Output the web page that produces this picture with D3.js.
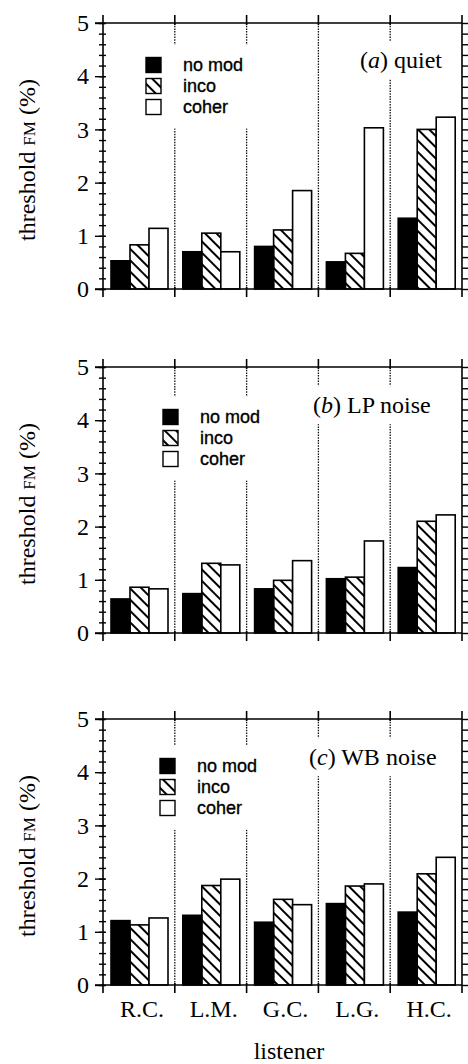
<!DOCTYPE html>
<html>
<head>
<meta charset="utf-8">
<script src="https://cdn.jsdelivr.net/npm/d3@7"></script>
<style>
  body { margin: 0; background: #fff; }
  svg { display: block; }
</style>
</head>
<body>
<script>
// listeners and stimulus conditions
var listeners = ["R.C.", "L.M.", "G.C.", "L.G.", "H.C."];
var conditions = ["no mod", "inco", "coher"];

// (a) quiet
var quietNoMod = [0.53, 0.70, 0.80, 0.51, 1.33];
var quietInco  = [0.83, 1.05, 1.11, 0.67, 3.00];
var quietCoher = [1.14, 0.70, 1.85, 3.03, 3.23];
// (b) LP noise
var lpNoMod = [0.64, 0.74, 0.83, 1.02, 1.23];
var lpInco  = [0.86, 1.31, 0.99, 1.05, 2.10];
var lpCoher = [0.83, 1.28, 1.36, 1.73, 2.22];
// (c) WB noise
var wbNoMod = [1.21, 1.31, 1.18, 1.53, 1.37];
var wbInco  = [1.13, 1.87, 1.61, 1.86, 2.09];
var wbCoher = [1.26, 1.99, 1.51, 1.90, 2.40];

var yTicks = [0, 1, 2, 3, 4, 5];
var panelTags = ["a", "b", "c"];
var panelNames = ["quiet", "LP noise", "WB noise"];

var panels = [
  {series: [quietNoMod, quietInco, quietCoher], top: 23,  leg: [146, 42], lab: [360, 37]},
  {series: [lpNoMod, lpInco, lpCoher],          top: 367, leg: [163, 50], lab: [313, 38]},
  {series: [wbNoMod, wbInco, wbCoher],          top: 719, leg: [160, 47], lab: [309, 38]}
];

var W = 468, H = 1064, ph = 266, left = 103, right = 462;
var serif = "'Liberation Serif', 'Times New Roman', serif";
var sans = "'Liberation Sans', Arial, sans-serif";

var svg = d3.select("body").append("svg")
  .attr("width", W).attr("height", H);

// hatch for "inco"
var defs = svg.append("defs");
defs.append("pattern")
  .attr("id", "hatch")
  .attr("patternUnits", "userSpaceOnUse")
  .attr("width", 8).attr("height", 8)
  .attr("patternTransform", "rotate(45)")
  .append("line")
  .attr("x1", -1).attr("x2", 9).attr("y1", 4).attr("y2", 4)
  .attr("stroke", "#000").attr("stroke-width", 2);

var fills = ["#000", "url(#hatch)", "#fff"];

var x = d3.scaleBand().domain(listeners).range([left, right]);
var xBar = d3.scaleBand().domain(conditions).range([8, 65]);

panels.forEach(function(p, pi) {
  var y = d3.scaleLinear().domain([0, 5]).range([p.top + ph, p.top]);
  var g = svg.append("g");
  var gDiv = g.append("g"), gMask = g.append("g"), gBars = g.append("g"),
      gFrame = g.append("g"), gText = g.append("g");

  // dotted dividers between listeners
  var bounds = listeners.slice(1).map(function(d) { return x(d); });
  gDiv.selectAll("line").data(bounds).enter().append("line")
    .attr("x1", function(d) { return d; }).attr("x2", function(d) { return d; })
    .attr("y1", y(5)).attr("y2", y(0))
    .attr("stroke", "#111").attr("stroke-width", 1.3)
    .attr("stroke-dasharray", "1.5,1.2");

  // bars
  listeners.forEach(function(name, i) {
    gBars.selectAll(null).data(conditions).enter().append("rect")
      .attr("x", function(c) { return x(name) + xBar(c); })
      .attr("width", xBar.bandwidth())
      .attr("y", function(c, ci) { return y(p.series[ci][i]); })
      .attr("height", function(c, ci) { return y(0) - y(p.series[ci][i]); })
      .attr("fill", function(c, ci) { return fills[ci]; })
      .attr("stroke", "#000").attr("stroke-width", 1.6);
  });

  // frame
  gFrame.append("line").attr("x1", left - 8).attr("x2", right)
    .attr("y1", y(5)).attr("y2", y(5));
  gFrame.append("line").attr("x1", left - 8).attr("x2", right)
    .attr("y1", y(0)).attr("y2", y(0));
  gFrame.append("line").attr("x1", left).attr("x2", left)
    .attr("y1", y(5) - 8).attr("y2", y(0) + 8);
  gFrame.append("line").attr("x1", right).attr("x2", right)
    .attr("y1", y(5) - 8).attr("y2", y(0) + 8);
  gFrame.selectAll(null).data(bounds).enter().append("line")
    .attr("x1", function(d) { return d; }).attr("x2", function(d) { return d; })
    .attr("y1", y(5) - 8).attr("y2", y(5) + 2);
  gFrame.selectAll(null).data(bounds).enter().append("line")
    .attr("x1", function(d) { return d; }).attr("x2", function(d) { return d; })
    .attr("y1", y(0) - 2).attr("y2", y(0) + 8);
  gFrame.selectAll("line").attr("stroke", "#000").attr("stroke-width", 1.6);

  // left axis: minor + major
  var minor = gFrame.append("g").attr("transform", "translate(" + (left + 3) + ",0)")
    .call(d3.axisLeft(y).ticks(25).tickSize(7).tickFormat(""));
  var major = gFrame.append("g").attr("transform", "translate(" + (left + 2) + ",0)")
    .call(d3.axisLeft(y).tickValues(yTicks).tickSize(10).tickPadding(6).tickFormat(d3.format("d")));
  var rightAx = gFrame.append("g").attr("transform", "translate(" + right + ",0)")
    .call(d3.axisRight(y).ticks(25).tickSize(6).tickFormat(""));
  [minor, major, rightAx].forEach(function(a) {
    a.select(".domain").remove();
    a.selectAll(".tick line").attr("stroke", "#000").attr("stroke-width", 1.4);
  });
  major.selectAll(".tick text")
    .attr("font-family", serif).attr("font-size", 24).attr("fill", "#000");

  // y label
  var yl = gText.append("text")
    .attr("transform", "translate(35," + (p.top + 137) + ") rotate(-90)")
    .attr("text-anchor", "middle")
    .attr("font-family", serif).attr("font-size", 24).attr("fill", "#000");
  yl.append("tspan").text("threshold ");
  yl.append("tspan").attr("font-size", 17).text("FM");
  yl.append("tspan").text(" (%)");

  // legend
  var leg = gText.append("g");
  conditions.forEach(function(c, ci) {
    var cy = p.top + p.leg[1] + ci * 21;
    leg.append("rect")
      .attr("x", p.leg[0]).attr("y", cy - 7.5).attr("width", 15).attr("height", 15)
      .attr("fill", fills[ci]).attr("stroke", "#000").attr("stroke-width", 1.4);
    leg.append("text")
      .attr("x", p.leg[0] + 37).attr("y", cy).attr("dy", "0.36em")
      .attr("font-family", sans).attr("font-size", 18).attr("fill", "#000")
      .attr("stroke", "#000").attr("stroke-width", 0.35)
      .text(c);
  });

  // panel label
  var lab = gText.append("text")
    .attr("x", p.lab[0]).attr("y", p.top + p.lab[1]).attr("dy", "0.34em")
    .attr("font-family", serif).attr("font-size", 24).attr("fill", "#000");
  lab.append("tspan").text("(");
  lab.append("tspan").attr("font-style", "italic").text(panelTags[pi]);
  lab.append("tspan").text(") " + panelNames[pi]);

  // white gaps in the dividers behind texts
  [leg.node().getBBox(), lab.node().getBBox()].forEach(function(b, k) {
    var pad = k === 0 ? 11 : 6;
    gMask.append("rect")
      .attr("x", b.x - pad).attr("y", b.y - pad)
      .attr("width", b.width + 2 * pad).attr("height", b.height + 2 * pad)
      .attr("fill", "#fff");
  });

  // x labels on bottom panel
  if (pi === 2) {
    gText.selectAll(null).data(listeners).enter().append("text")
      .attr("x", function(d) { return x(d) + x.bandwidth() / 2 + 3; })
      .attr("y", y(0) + 32)
      .attr("text-anchor", "middle")
      .attr("font-family", serif).attr("font-size", 24).attr("fill", "#000")
      .text(function(d) { return d; });
    gText.append("text")
      .attr("x", 289).attr("y", y(0) + 74)
      .attr("text-anchor", "middle")
      .attr("font-family", serif).attr("font-size", 24).attr("fill", "#000")
      .text("listener");
  }
});
</script>
</body>
</html>
